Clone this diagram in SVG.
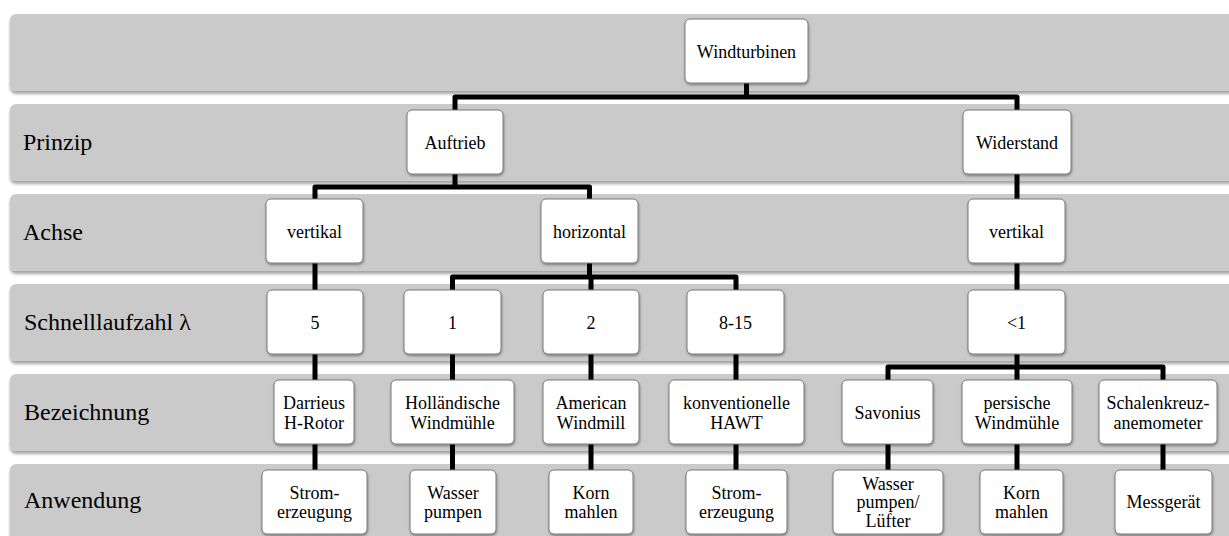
<svg xmlns="http://www.w3.org/2000/svg" width="1229" height="536" viewBox="0 0 1229 536">
<defs>
<filter id="bandShadow" x="-5%" y="-20%" width="110%" height="150%">
<feDropShadow dx="0" dy="3" stdDeviation="1.6" flood-color="#000" flood-opacity="0.35"/>
</filter>
<filter id="nodeShadow" x="-10%" y="-10%" width="125%" height="130%">
<feDropShadow dx="0.5" dy="1.5" stdDeviation="1.2" flood-color="#000" flood-opacity="0.4"/>
</filter>
<style>
.band{fill:#cacaca;filter:url(#bandShadow)}
.lbl{font-family:'Liberation Serif','Times New Roman',serif;font-size:24px;fill:#000}
.box{fill:#fff;stroke:#7a7a7a;stroke-width:1;filter:url(#nodeShadow)}
.t{font-family:'Liberation Serif','Times New Roman',serif;font-size:18px;fill:#000;text-anchor:middle}
.conn{fill:none;stroke:#000;stroke-width:5;stroke-linejoin:round}
</style>
</defs>
<rect width="1229" height="536" fill="#fff"/>
<g id="lanes">
<rect class="band" x="10" y="14" width="1240" height="77" rx="6"/>
<rect class="band" x="10" y="104" width="1240" height="77" rx="6"/>
<rect class="band" x="10" y="194" width="1240" height="77" rx="6"/>
<rect class="band" x="10" y="284" width="1240" height="77" rx="6"/>
<rect class="band" x="10" y="374" width="1240" height="77" rx="6"/>
<rect class="band" x="10" y="464" width="1240" height="90" rx="6"/>
<text class="lbl" x="23" y="150">Prinzip</text>
<text class="lbl" x="23" y="240">Achse</text>
<text class="lbl" x="24" y="330">Schnelllaufzahl λ</text>
<text class="lbl" x="24" y="420">Bezeichnung</text>
<text class="lbl" x="24" y="508">Anwendung</text>
</g>
<g id="connectors">
<path class="conn" d="M746.5 83V97"/>
<path class="conn" d="M455 110V97H1017V110"/>
<path class="conn" d="M455 174V187"/>
<path class="conn" d="M315 199V187H589.5V199"/>
<path class="conn" d="M1017 174V199"/>
<path class="conn" d="M315 263V290"/>
<path class="conn" d="M589.5 263V277"/>
<path class="conn" d="M452.5 290V277H736V290"/>
<path class="conn" d="M591 277V290"/>
<path class="conn" d="M1017 263V290"/>
<path class="conn" d="M315 354V380"/>
<path class="conn" d="M452.5 354V380"/>
<path class="conn" d="M591 354V380"/>
<path class="conn" d="M736 354V380"/>
<path class="conn" d="M1017 354V367"/>
<path class="conn" d="M888 380V367H1163V380"/>
<path class="conn" d="M1017 367V380"/>
<path class="conn" d="M315 444V470"/>
<path class="conn" d="M452.5 444V470"/>
<path class="conn" d="M591 444V470"/>
<path class="conn" d="M736 444V470"/>
<path class="conn" d="M888 444V470"/>
<path class="conn" d="M1017 444V470"/>
<path class="conn" d="M1163 444V470"/>
</g>
<g id="n-windturbinen"><rect class="box" x="685" y="19" width="123" height="64" rx="5"/><text class="t" x="746.5" y="57.5">Windturbinen</text></g>
<g id="n-auftrieb"><rect class="box" x="407" y="110" width="96" height="64" rx="5"/><text class="t" x="455" y="148.5">Auftrieb</text></g>
<g id="n-widerstand"><rect class="box" x="963" y="110" width="108" height="64" rx="5"/><text class="t" x="1017" y="148.5">Widerstand</text></g>
<g id="n-vertikal-1"><rect class="box" x="266" y="199" width="97" height="64" rx="5"/><text class="t" x="314.5" y="237.5">vertikal</text></g>
<g id="n-horizontal"><rect class="box" x="541" y="199" width="97" height="64" rx="5"/><text class="t" x="589.5" y="237.5">horizontal</text></g>
<g id="n-vertikal-2"><rect class="box" x="968" y="199" width="97" height="64" rx="5"/><text class="t" x="1016.5" y="237.5">vertikal</text></g>
<g id="n-l5"><rect class="box" x="267" y="290" width="96" height="64" rx="5"/><text class="t" x="315" y="328.5">5</text></g>
<g id="n-l1"><rect class="box" x="404" y="290" width="97" height="64" rx="5"/><text class="t" x="452.5" y="328.5">1</text></g>
<g id="n-l2"><rect class="box" x="543" y="290" width="96" height="64" rx="5"/><text class="t" x="591" y="328.5">2</text></g>
<g id="n-l8-15"><rect class="box" x="687" y="290" width="97" height="64" rx="5"/><text class="t" x="735.5" y="328.5">8-15</text></g>
<g id="n-llt1"><rect class="box" x="968" y="290" width="97" height="64" rx="5"/><text class="t" x="1016.5" y="328.5">&lt;1</text></g>
<g id="n-darrieus"><rect class="box" x="274" y="380" width="80" height="64" rx="5"/><text class="t" x="314" y="409">Darrieus</text><text class="t" x="314" y="428.5">H-Rotor</text></g>
<g id="n-hollaendisch"><rect class="box" x="391" y="380" width="123" height="64" rx="5"/><text class="t" x="452.5" y="409">Holländische</text><text class="t" x="452.5" y="428.5">Windmühle</text></g>
<g id="n-american"><rect class="box" x="543" y="380" width="96" height="64" rx="5"/><text class="t" x="591" y="409">American</text><text class="t" x="591" y="428.5">Windmill</text></g>
<g id="n-hawt"><rect class="box" x="669" y="380" width="135" height="64" rx="5"/><text class="t" x="736.5" y="409">konventionelle</text><text class="t" x="736.5" y="428.5">HAWT</text></g>
<g id="n-savonius"><rect class="box" x="842" y="380" width="91" height="64" rx="5"/><text class="t" x="887.5" y="418.5">Savonius</text></g>
<g id="n-persisch"><rect class="box" x="962" y="380" width="110" height="64" rx="5"/><text class="t" x="1017" y="409">persische</text><text class="t" x="1017" y="428.5">Windmühle</text></g>
<g id="n-schalen"><rect class="box" x="1099" y="380" width="118" height="64" rx="5"/><text class="t" x="1158" y="409">Schalenkreuz-</text><text class="t" x="1158" y="428.5">anemometer</text></g>
<g id="n-strom-1"><rect class="box" x="262" y="470" width="105" height="64" rx="5"/><text class="t" x="314.5" y="498.5">Strom-</text><text class="t" x="314.5" y="518">erzeugung</text></g>
<g id="n-wasser"><rect class="box" x="410" y="470" width="86" height="64" rx="5"/><text class="t" x="453" y="498.5">Wasser</text><text class="t" x="453" y="518">pumpen</text></g>
<g id="n-korn-1"><rect class="box" x="549" y="470" width="84" height="64" rx="5"/><text class="t" x="591" y="498.5">Korn</text><text class="t" x="591" y="518">mahlen</text></g>
<g id="n-strom-2"><rect class="box" x="686" y="470" width="101" height="64" rx="5"/><text class="t" x="736.5" y="498.5">Strom-</text><text class="t" x="736.5" y="518">erzeugung</text></g>
<g id="n-wasser-luefter"><rect class="box" x="833" y="470" width="110" height="64" rx="5"/><text class="t" x="888" y="489.5">Wasser</text><text class="t" x="888" y="508">pumpen/</text><text class="t" x="888" y="526.5">Lüfter</text></g>
<g id="n-korn-2"><rect class="box" x="980" y="470" width="83" height="64" rx="5"/><text class="t" x="1021.5" y="498.5">Korn</text><text class="t" x="1021.5" y="518">mahlen</text></g>
<g id="n-messgeraet"><rect class="box" x="1115" y="470" width="97" height="64" rx="5"/><text class="t" x="1163.5" y="508">Messgerät</text></g>
</svg>
